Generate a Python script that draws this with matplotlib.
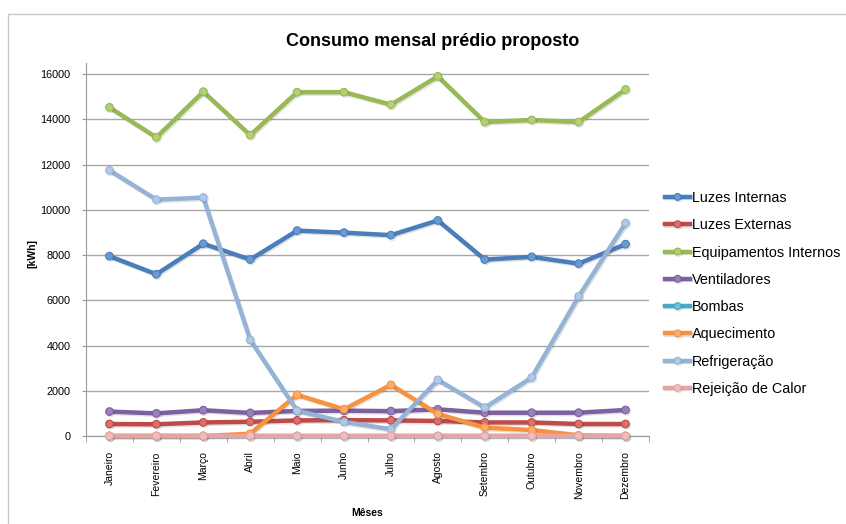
import matplotlib
matplotlib.use("Agg")
import matplotlib.pyplot as plt
import matplotlib.patheffects as pe
from matplotlib.patches import Rectangle
import numpy as np

plt.rcParams['font.family'] = ['Liberation Sans', 'DejaVu Sans']

meses = ["Janeiro", "Fevereiro", "Março", "Abril", "Maio", "Junho", "Julho",
         "Agosto", "Setembro", "Outubro", "Novembro", "Dezembro"]

luzes_internas = [7950, 7150, 8500, 7800, 9080, 8990, 8880, 9530, 7800, 7920, 7620, 8480]
luzes_externas = [530, 520, 600, 630, 690, 700, 690, 665, 600, 600, 530, 530]
equipamentos_internos = [14530, 13200, 15220, 13300, 15200, 15200, 14650, 15900, 13880, 13970, 13880, 15320]
ventiladores = [1080, 1000, 1140, 1020, 1110, 1120, 1100, 1180, 1030, 1030, 1030, 1150]
bombas = [0] * 12
aquecimento = [0, 0, 0, 100, 1820, 1180, 2260, 975, 370, 265, 30, 0]
refrigeracao = [11745, 10450, 10540, 4250, 1120, 620, 300, 2480, 1255, 2585, 6170, 9410]
rejeicao_calor = [0] * 12

series = [
    ("Luzes Internas", luzes_internas, "#4A7EBB", "#6A9AD4"),
    ("Luzes Externas", luzes_externas, "#BE4B48", "#D8706D"),
    ("Equipamentos Internos", equipamentos_internos, "#98B954", "#B3D074"),
    ("Ventiladores", ventiladores, "#7D60A0", "#9A80BC"),
    ("Bombas", bombas, "#46AAC5", "#6CC3DA"),
    ("Aquecimento", aquecimento, "#F69240", "#F9AE6E"),
    ("Refrigeração", refrigeracao, "#95B3D7", "#B0C9E6"),
    ("Rejeição de Calor", rejeicao_calor, "#E6A5A4", "#F0BDBC"),
]

W, H = 846, 524
fig = plt.figure(figsize=(W / 100, H / 100), dpi=100)

# outer chart frame
fig.patches.append(Rectangle((8 / W, -0.1), 1.2, (H - 14) / H + 0.1,
                             transform=fig.transFigure, fill=False,
                             edgecolor="#C8C8C8", linewidth=1.0))

ax = fig.add_axes([86 / W, (H - 436) / H, (649 - 86) / W, (436 - 63) / H])
x = np.arange(len(meses))

shadow = [pe.SimpleLineShadow(offset=(0.8, -1.0), alpha=0.12, shadow_color="black"),
          pe.Normal()]
for name, vals, col, fill in series:
    ax.plot(x, vals, color=col, linewidth=3.2, marker="o", markersize=5.5,
            markerfacecolor=fill, markeredgecolor=col, markeredgewidth=0.8,
            label=name, path_effects=shadow, solid_joinstyle="round",
            clip_on=False, zorder=3)

ax.set_xlim(-0.5, 11.5)
ax.set_ylim(0, 16490)
ax.set_yticks(np.arange(0, 16001, 2000))
ax.set_xticks(x)
ax.set_xticklabels(meses, rotation=90, fontsize=7.5)
ax.set_xticks(np.arange(-0.5, 12, 1), minor=True)
ax.tick_params(axis="x", which="major", length=0, pad=11)
ax.tick_params(axis="x", which="minor", length=4, color="#9A9A9A", direction="out")
ax.tick_params(axis="y", length=3, color="#9A9A9A", direction="out", labelsize=7.8, pad=8)

ax.grid(axis="y", color="#A8A8A8", linewidth=1.0)
ax.set_axisbelow(True)
for s in ["top", "right"]:
    ax.spines[s].set_visible(False)
ax.spines["left"].set_color("#9A9A9A")
ax.spines["bottom"].set_color("#9A9A9A")

fig.text(433 / W, 1 - 41 / H, "Consumo mensal prédio proposto", ha="center", va="center",
         fontsize=13, fontweight="bold")
fig.text(32 / W, 1 - 253 / H, "[kWh]", rotation=90, ha="center", va="center",
         fontsize=7.5, fontweight="bold")
fig.text(367 / W, 1 - 513 / H, "Mêses", ha="center", va="center",
         fontsize=7.5, fontweight="bold")

handles, labels = ax.get_legend_handles_labels()
leg = fig.legend(handles, labels, loc="upper left",
                 bbox_to_anchor=(665 / W, 1 - 191 / H), frameon=False,
                 fontsize=10.4, handlelength=1.75, handletextpad=0.1,
                 labelspacing=0.92, borderaxespad=0, borderpad=0, markerscale=0.9)

fig.savefig("out.png", dpi=100)
